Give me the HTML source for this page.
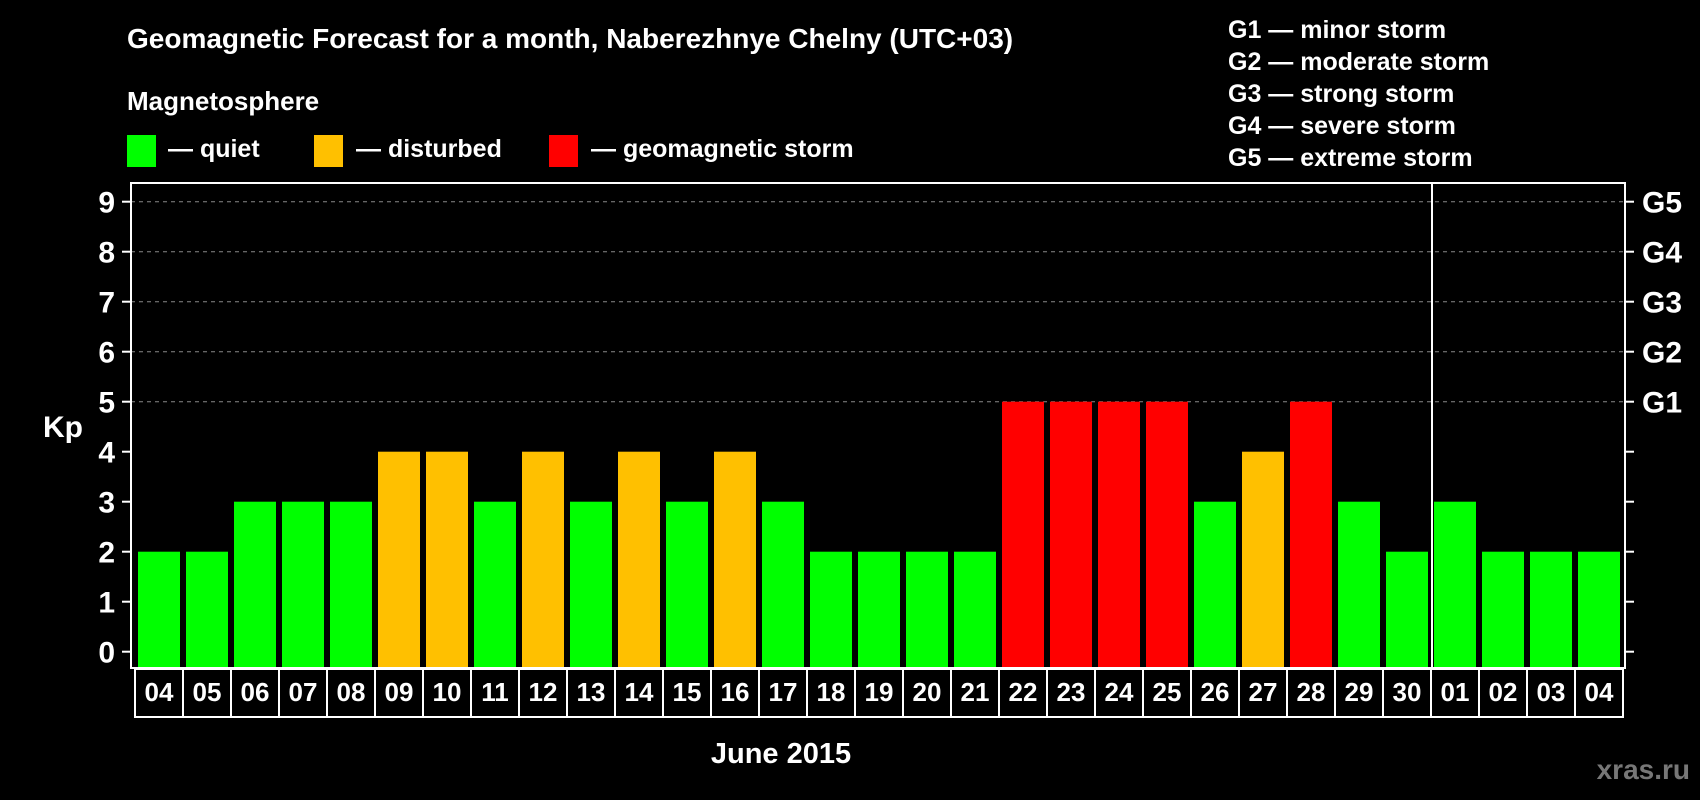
<!DOCTYPE html>
<html><head><meta charset="utf-8"><style>
html,body{margin:0;padding:0;background:#000;}
svg{display:block;font-family:"Liberation Sans",Arial,sans-serif;font-weight:bold;}
</style></head><body>
<svg id="chart" width="1700" height="800" viewBox="0 0 1700 800">
<rect x="0" y="0" width="1700" height="800" fill="#000"/>
<text x="127" y="48" fill="#fff" font-size="28">Geomagnetic Forecast for a month, Naberezhnye Chelny (UTC+03)</text>
<text x="127" y="110" fill="#fff" font-size="26">Magnetosphere</text>
<g>
<rect x="127" y="135" width="29" height="32" fill="#00ff00"/>
<text x="168" y="157" fill="#fff" font-size="25">— quiet</text></g>
<g>
<rect x="314" y="135" width="29" height="32" fill="#ffc000"/>
<text x="356" y="157" fill="#fff" font-size="25">— disturbed</text></g>
<g>
<rect x="549" y="135" width="29" height="32" fill="#ff0000"/>
<text x="591" y="157" fill="#fff" font-size="25">— geomagnetic storm</text></g>
<g fill="#fff" font-size="25">
<text x="1228" y="38">G1 — minor storm</text>
<text x="1228" y="70">G2 — moderate storm</text>
<text x="1228" y="102">G3 — strong storm</text>
<text x="1228" y="134">G4 — severe storm</text>
<text x="1228" y="166">G5 — extreme storm</text>
</g>
<text x="63" y="437" fill="#fff" font-size="30" text-anchor="middle">Kp</text>
<text x="781" y="763" fill="#fff" font-size="29" text-anchor="middle">June 2015</text>
<text x="1690" y="779" fill="#777" font-size="28" text-anchor="end">xras.ru</text>
<g id="grid"></g><g id="bars"></g><g id="axes"></g>
</svg>
<script>
const days = ["04","05","06","07","08","09","10","11","12","13","14","15","16","17","18","19","20","21","22","23","24","25","26","27","28","29","30","01","02","03","04"];
const kpValues = [2,2,3,3,3,4,4,3,4,3,4,3,4,3,2,2,2,2,5,5,5,5,3,4,5,3,2,3,2,2,2];
const yTicks = [0,1,2,3,4,5,6,7,8,9];
const gLabels = ["G1","G2","G3","G4","G5"];
const gLevels = [5,6,7,8,9];
const monthBreakIndex = 27;

const NS = "http://www.w3.org/2000/svg";
const plotL = 131, plotR = 1625, plotT = 183, plotB = 668;
const y0 = 651.7, unit = 50;
const x0 = 135, step = 48, barW = 42;
function yScale(v){ return y0 - v*unit; }
function xScale(i){ return x0 + i*step; }
function mk(tag, attrs, parent){ const e=document.createElementNS(NS,tag); for(const k in attrs) e.setAttribute(k,attrs[k]); parent.appendChild(e); return e; }
function colorFor(v){ return v>=5 ? "#ff0000" : (v>=4 ? "#ffc000" : "#00ff00"); }

const grid=document.getElementById("grid"), bars=document.getElementById("bars"), axes=document.getElementById("axes");

gLevels.forEach((lv,i)=>{
  const l=mk("line",{x1:plotL,x2:plotR,y1:yScale(lv),y2:yScale(lv),stroke:"#888","stroke-width":1,"stroke-dasharray":"4 4"},grid);
  
  
  const t=mk("text",{x:1642,y:yScale(lv)+11,fill:"#fff","font-size":30},axes);
  t.textContent=gLabels[i];
  
  
});

kpValues.forEach((v,i)=>{
  const r=mk("rect",{x:xScale(i)+3,y:yScale(v),width:barW,height:yScale(0)-yScale(v)+16,fill:colorFor(v)},bars);
  
  
});

yTicks.forEach(v=>{
  const y=yScale(v);
  const a=mk("line",{x1:122,x2:plotL,y1:y,y2:y,stroke:"#fff","stroke-width":2},axes);
  
  
  const b=mk("line",{x1:plotR,x2:1634,y1:y,y2:y,stroke:"#fff","stroke-width":2},axes);
  
  
  const t=mk("text",{x:115,y:y+11,fill:"#fff","font-size":30,"text-anchor":"end"},axes);
  t.textContent=v;
  
  
});

const frame=mk("rect",{x:plotL,y:plotT,width:plotR-plotL,height:plotB-plotT,fill:"none",stroke:"#fff","stroke-width":2},axes);


const mb=xScale(monthBreakIndex)+1;
const sep=mk("line",{x1:mb,x2:mb,y1:plotT,y2:plotB,stroke:"#fff","stroke-width":2},axes);



const rowT=669, rowB=717;
const row=mk("rect",{x:x0,y:rowT,width:xScale(days.length)-x0+0,height:rowB-rowT,fill:"none",stroke:"#fff","stroke-width":2},axes);


days.forEach((d,i)=>{
  if(i>0){
    const l=mk("line",{x1:xScale(i),x2:xScale(i),y1:rowT,y2:rowB,stroke:"#fff","stroke-width":2},axes);
    
    
  }
  const t=mk("text",{x:xScale(i)+step/2,y:701,fill:"#fff","font-size":26,"text-anchor":"middle"},axes);
  t.textContent=d;
  
  
});
</script>
</body></html>
